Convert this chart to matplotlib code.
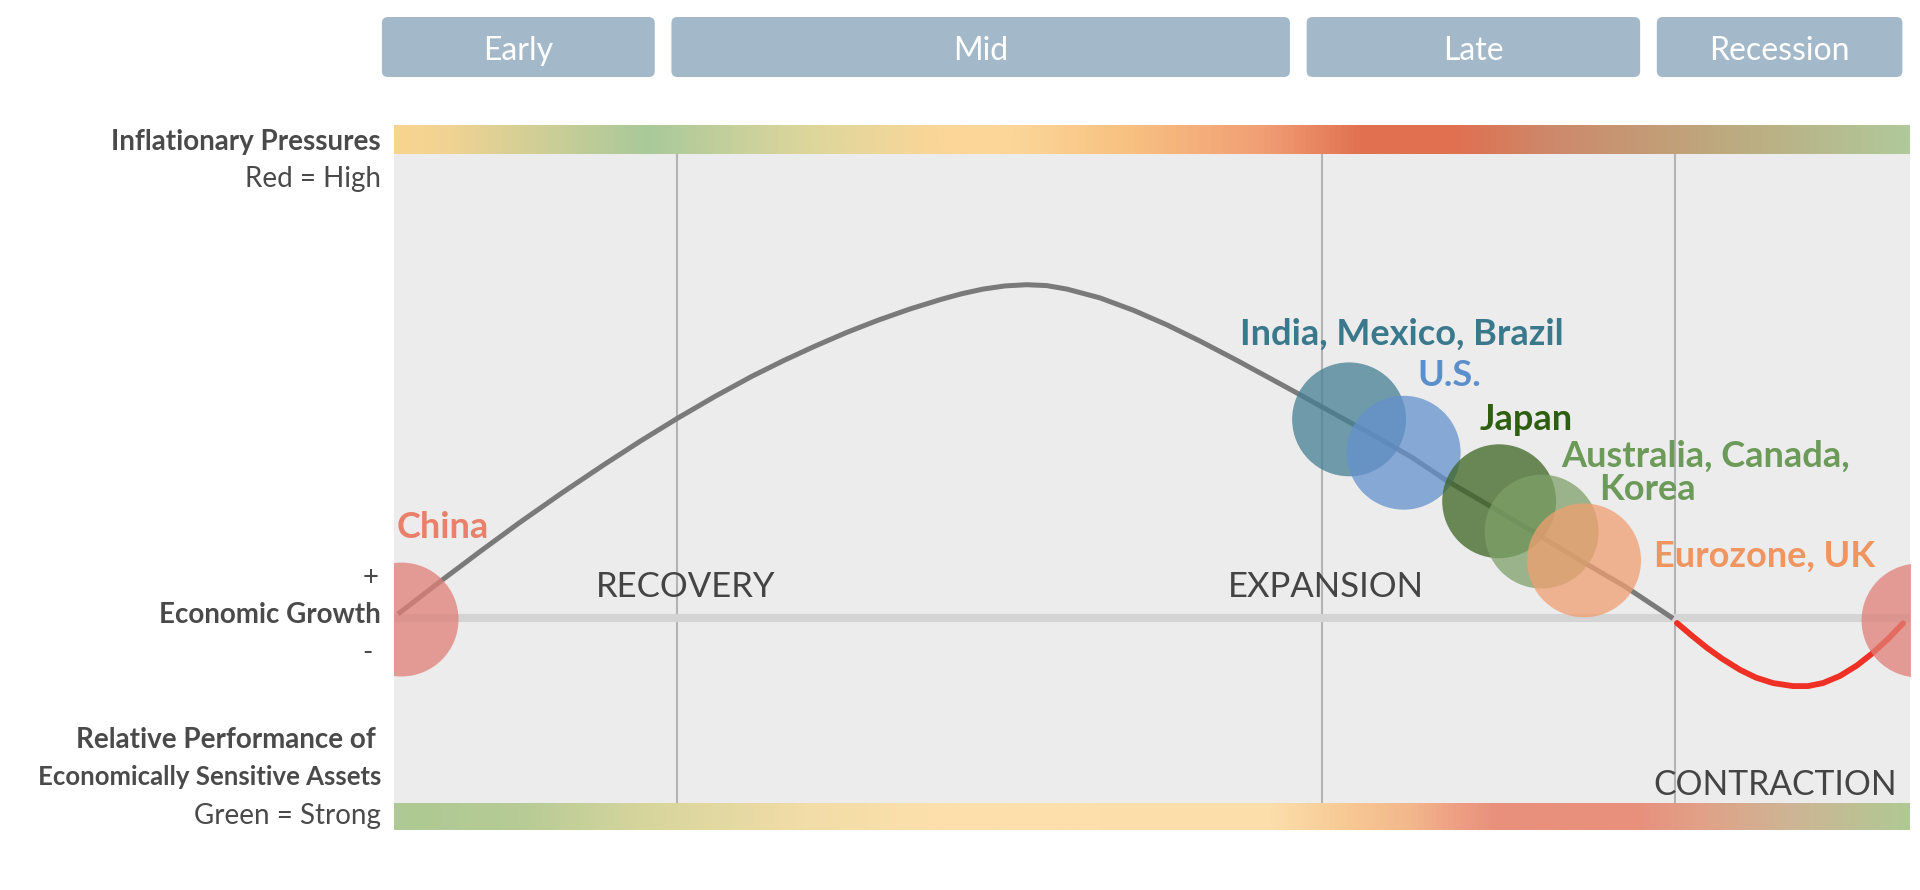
import matplotlib.pyplot as plt
import numpy as np
from matplotlib.colors import LinearSegmentedColormap
from matplotlib.patches import FancyBboxPatch

plt.rcParams['font.family'] = ['Lato', 'DejaVu Sans']

# phases of the cycle, x in % of one full cycle
phase_names = ["Early", "Mid", "Late", "Recession"]
phase_start = [-0.8, 18.3, 60.2, 83.3]
phase_end = [17.2, 59.1, 82.2, 99.5]
phase_lines = [18.7, 61.2, 84.5]

# business cycle curve (growth above trend)
cycle_x = [0.26, 3.17, 5.74, 8.31, 11.08, 13.85, 16.29, 18.73, 21.17, 23.61,
           25.73, 27.77, 29.88, 31.93, 34.04, 36.08, 37.47, 38.85, 40.30, 41.75,
           43.07, 44.39, 46.57, 48.81, 50.99, 53.23, 55.47, 57.65, 59.43, 61.21,
           63.06, 64.97, 67.15, 69.39, 72.36, 75.33, 78.23, 81.20, 83.97, 84.37]
cycle_y = [0.26, 2.50, 4.43, 6.31, 8.25, 10.11, 11.69, 13.19, 14.61, 15.94,
           16.99, 17.93, 18.84, 19.64, 20.38, 21.01, 21.39, 21.69, 21.90, 21.98,
           21.92, 21.69, 21.11, 20.28, 19.33, 18.23, 17.06, 15.88, 14.91, 13.92,
           12.90, 11.85, 10.59, 9.09, 7.35, 5.57, 3.81, 2.08, 0.24, -0.03]

# recession dip
dip_x = [84.63, 85.62, 86.61, 87.60, 88.79, 89.84, 90.96, 92.28, 93.27,
         94.26, 95.38, 96.50, 97.49, 98.55, 99.54]
dip_y = [-0.33, -1.17, -1.97, -2.68, -3.42, -3.93, -4.29, -4.49, -4.49,
         -4.29, -3.82, -3.13, -2.35, -1.38, -0.35]

# countries on the cycle
countries = ["China", "India, Mexico, Brazil", "U.S.", "Japan",
             "Australia, Canada,", "Eurozone, UK"]
country_x = [0.5, 63.0, 66.6, 72.9, 75.7, 78.5]
country_y = [-0.1, 13.1, 10.9, 7.7, 5.7, 3.8]
dot_colors = ["#e07f78", "#457f93", "#6391cc", "#3c6523", "#7fa069", "#f19f71"]
text_colors = ["#e8806a", "#3a788c", "#5b8fcb", "#2e5e10", "#6c9a58", "#f0955f"]
# label anchors (left, baseline)
label_x = [0.2, 55.8, 67.5, 71.6, 77.0, 83.1]
label_y = [5.3, 18.0, 15.3, 12.4, 10.0, 3.4]

stage_names = ["RECOVERY", "EXPANSION", "CONTRACTION"]
stage_x = [13.3, 55.0, 83.1]
stage_y = [1.4, 1.4, -11.7]

# colour bars
top_stops = [0, 0.03, 0.165, 0.27, 0.36, 0.41, 0.48, 0.574, 0.64, 0.70, 0.768, 0.866, 1.0]
top_colors = ["#f8d48f", "#f3d392", "#a9c99a", "#dcd69c", "#fbd698", "#fbd698", "#f8c282",
              "#f19e75", "#e07050", "#e07050", "#cc8a6c", "#bfa67c", "#b0c99a"]
bottom_stops = [0, 0.08, 0.17, 0.27, 0.35, 0.58, 0.63, 0.67, 0.70, 0.73, 0.82, 0.86, 0.925, 1.0]
bottom_colors = ["#aec993", "#b6cb96", "#d8d69d", "#f2dca7", "#fce0ab", "#fcdeaa", "#f7c894",
                 "#f3b88c", "#eea084", "#e8907c", "#e8907c", "#e2a087", "#cdb595", "#b0c993"]

W, H = 1920, 890
fig = plt.figure(figsize=(W / 100, H / 100), dpi=100)


def rect(x0, y0, x1, y1):
    return [x0 / W, 1 - y1 / H, (x1 - x0) / W, (y1 - y0) / H]


# main panel
ax = fig.add_axes(rect(394, 154, 1910, 803))
ax.set_facecolor("#ececec")
ax.set_xlim(0, 100)
ax.set_ylim(-12.2, 30.6)
for s in ax.spines.values():
    s.set_visible(False)
ax.set_xticks([])
ax.set_yticks([])

for x in phase_lines:
    ax.axvline(x, color="#b3b3b3", lw=1.5, zorder=1)
ax.axhline(0, color="#d4d4d4", lw=5.8, zorder=1.5)

ax.plot(cycle_x, cycle_y, color="#7a7a7a", lw=3.6, solid_capstyle="butt",
        solid_joinstyle="round", zorder=2)
ax.plot(dip_x, dip_y, color="#ee3124", lw=4.2, solid_capstyle="round",
        solid_joinstyle="round", zorder=2)

# China shows on both ends (cycle wraps around)
ax.scatter([country_x[0] + 100], [country_y[0]], s=6724, color=dot_colors[0],
           alpha=0.75, lw=0, zorder=3)
ax.scatter(country_x, country_y, s=6724, c=dot_colors, alpha=0.75, lw=0, zorder=3)

for name, x, y, c in zip(countries, label_x, label_y, text_colors):
    ax.text(x, y, name, color=c, fontsize=26, fontweight="bold", ha="left",
            va="baseline", zorder=5, clip_on=False)
ax.text(79.5, 7.8, "Korea", color=text_colors[4], fontsize=26, fontweight="bold",
        ha="left", va="baseline", zorder=5)

for name, x, y in zip(stage_names, stage_x, stage_y):
    fs = 24.2 if name == "CONTRACTION" else 25
    ax.text(x, y, name, color="#444444", fontsize=fs, ha="left", va="baseline", zorder=4)

# gradient bars
grad = np.linspace(0, 1, 512).reshape(1, -1)
for stops, cols, pos in [(top_stops, top_colors, rect(394, 125, 1910, 154)),
                         (bottom_stops, bottom_colors, rect(394, 803, 1910, 830))]:
    cmap = LinearSegmentedColormap.from_list("bar", list(zip(stops, cols)))
    bax = fig.add_axes(pos)
    bax.imshow(grad, aspect="auto", cmap=cmap, extent=[0, 100, 0, 1])
    bax.set_axis_off()

# phase boxes
tax = fig.add_axes(rect(394, 17, 1910, 77))
tax.set_xlim(0, 100)
tax.set_ylim(0, 1)
tax.set_axis_off()
for name, x0, x1 in zip(phase_names, phase_start, phase_end):
    tax.add_patch(FancyBboxPatch((x0, 0), x1 - x0, 1,
                                 boxstyle="round,pad=0,rounding_size=0.4",
                                 mutation_aspect=0.25, fc="#a3b9c9", ec="none",
                                 clip_on=False))
    tax.text((x0 + x1) / 2, 0.44, name, color="white", fontsize=23,
             ha="center", va="center")

# left side labels
dark = "#4a4a4a"
left = [("Inflationary Pressures", 150, "bold", 20),
        ("Red = High", 187, "normal", 20),
        ("Economic Growth", 623, "bold", 20),
        ("Relative Performance of", 748, "bold", 20),
        ("Economically Sensitive Assets", 785, "bold", 18.5),
        ("Green = Strong", 824, "normal", 20)]
for txt, yb, wt, fs in left:
    xr = 376 if txt.startswith("Relative") else 381
    fig.text(xr / W, 1 - yb / H, txt, ha="right", va="baseline", color=dark,
             fontweight=wt, fontsize=fs)
fig.text(379 / W, 1 - 578 / H, "+", ha="right", va="center", color=dark, fontsize=20)
fig.text(373 / W, 1 - 653 / H, "-", ha="right", va="center", color=dark, fontsize=20)

fig.savefig("out.png", dpi=100, facecolor="white")
